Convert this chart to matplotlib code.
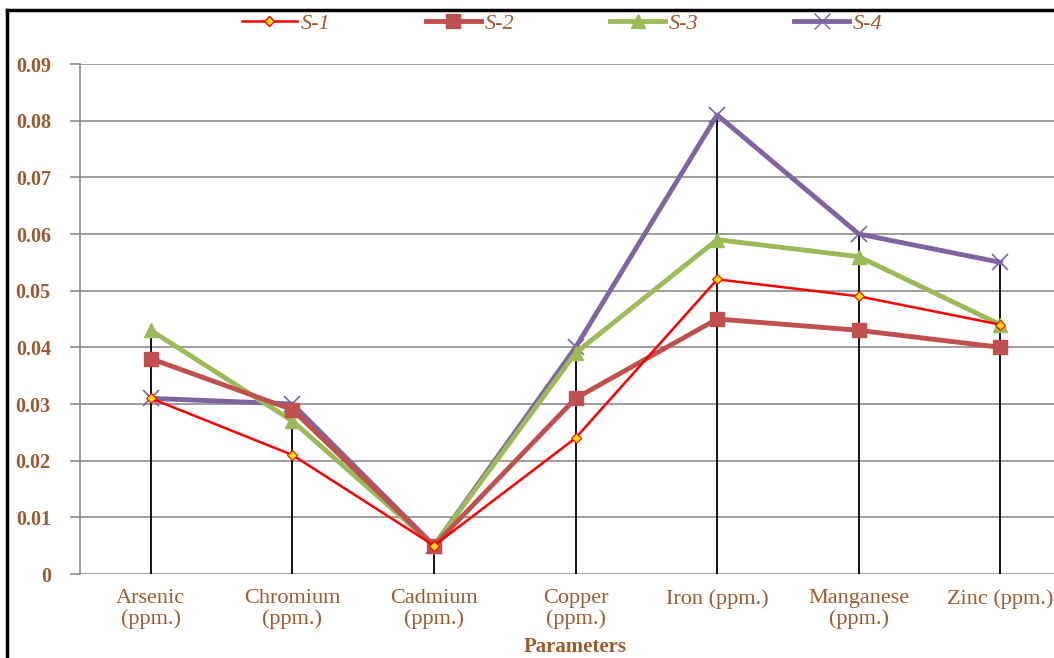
import numpy as np
import matplotlib
matplotlib.use("Agg")
import matplotlib.pyplot as plt
from matplotlib.lines import Line2D

plt.rcParams["font.family"] = ["Liberation Serif", "DejaVu Serif"]

# metal concentrations at four sampling sites
parameters = ["Arsenic\n(ppm.)", "Chromium\n(ppm.)", "Cadmium\n(ppm.)", "Copper\n(ppm.)",
              "Iron (ppm.)", "Manganese\n(ppm.)", "Zinc (ppm.)"]
s1 = [0.031, 0.021, 0.005, 0.024, 0.052, 0.049, 0.044]
s2 = [0.038, 0.029, 0.005, 0.031, 0.045, 0.043, 0.040]
s3 = [0.043, 0.027, 0.005, 0.039, 0.059, 0.056, 0.044]
s4 = [0.031, 0.030, 0.005, 0.040, 0.081, 0.060, 0.055]
y_ticks = [0, 0.01, 0.02, 0.03, 0.04, 0.05, 0.06, 0.07, 0.08, 0.09]
y_labels = ["0", "0.01", "0.02", "0.03", "0.04", "0.05", "0.06", "0.07", "0.08", "0.09"]

txt = "#9C5A2E"
grid_c = "#8C8C8C"

fig = plt.figure(figsize=(10.54, 6.58), dpi=100)
ax = fig.add_axes([80 / 1054, 1 - 574 / 658, 1 - 80 / 1054, (574 - 64) / 658])

x = np.arange(len(parameters))

# drop lines up to the highest site value
tops = np.max([s1, s2, s3, s4], axis=0)
ax.vlines(x, 0, tops, color="black", lw=1.3, zorder=2)

ax.plot(x, s4, color="#8064A2", lw=3.5, marker="x", ms=11, mew=1.2, zorder=3)
ax.plot(x, s3, color="#9BBB59", lw=3.5, marker="^", ms=10, zorder=4)
ax.plot(x, s2, color="#C0504D", lw=3.5, marker="s", ms=10, zorder=5)
ax.plot(x, s1, color="#FF0000", lw=1.8, marker="D", ms=5, mfc="#FFE000", mec="#FF0000", mew=0.8, zorder=6)

ax.set_xlim(-0.5, (1054 - 80) / 141.6 - 0.5)
ax.set_ylim(0, 0.09)
ax.set_yticks(y_ticks)
ax.set_yticklabels(y_labels, color=txt, fontsize=14.5, fontweight="bold")
ax.set_xticks(x)
ax.set_xticklabels(parameters, color=txt, fontsize=16, linespacing=1.1)
ax.tick_params(axis="x", length=0, pad=11)
ax.tick_params(axis="y", length=7, color=grid_c, width=1.2, pad=14)
ax.grid(axis="y", color=grid_c, lw=1.2)
ax.set_axisbelow(True)
for side in ["top", "right", "bottom"]:
    ax.spines[side].set_visible(False)
ax.spines["left"].set_color(grid_c)
ax.spines["left"].set_linewidth(1.2)

fig.text(575 / 1054, 1 - 652 / 658, "Parameters", ha="center", va="baseline",
         color=txt, fontsize=15, fontweight="bold")

handles = [
    Line2D([], [], color="#FF0000", lw=1.8, marker="D", ms=5, mfc="#FFE000", mec="#FF0000"),
    Line2D([], [], color="#C0504D", lw=3.5, marker="s", ms=10),
    Line2D([], [], color="#9BBB59", lw=3.5, marker="^", ms=10),
    Line2D([], [], color="#8064A2", lw=3.5, marker="x", ms=11),
]
leg = fig.legend(handles, ["S-1", "S-2", "S-3", "S-4"], loc="center", bbox_to_anchor=(562 / 1054, 1 - 24 / 658),
                 ncol=4, frameon=False, handlelength=2.5, columnspacing=4.3, handletextpad=0.15,
                 prop={"style": "italic", "size": 16})
for t in leg.get_texts():
    t.set_color(txt)

# outer frame, top and left edges
fig.add_artist(Line2D([7 / 1054, 7 / 1054], [0, 1 - 10 / 658], color="black", lw=2.5, transform=fig.transFigure))
fig.add_artist(Line2D([7 / 1054, 1], [1 - 10 / 658, 1 - 10 / 658], color="black", lw=2.5, transform=fig.transFigure))

fig.savefig("out.png", dpi=100)
